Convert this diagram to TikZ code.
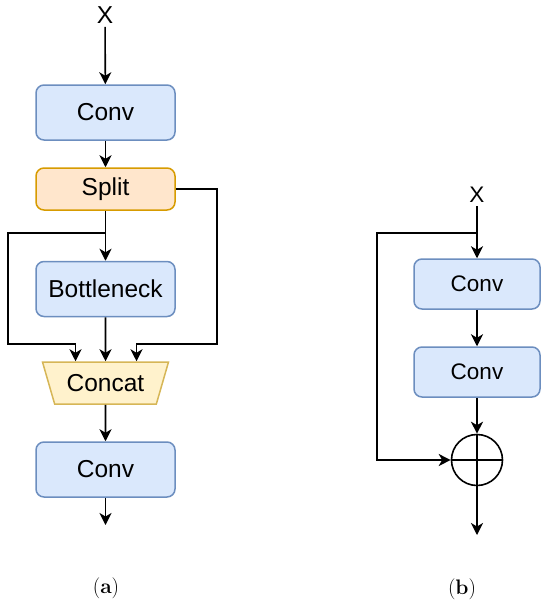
\documentclass[tikz,border=0pt]{standalone}
\usepackage{fontspec}
\newfontfamily\boxfont{Liberation Sans}
\usetikzlibrary{arrows.meta}
\usetikzlibrary{shapes.geometric}
\usetikzlibrary{calc}
\definecolor{blockfill}{HTML}{DAE8FC}
\definecolor{blockline}{HTML}{6C8EBF}
\definecolor{splitfill}{HTML}{FFE6CC}
\definecolor{splitline}{HTML}{D79B00}
\definecolor{catfill}{HTML}{FFF2CC}
\definecolor{catline}{HTML}{D6B656}
\tikzset{>={Stealth[length=12pt,width=12pt,inset=3.5pt]}}
\tikzset{
  wire/.style={line width=1.6pt},
  flow/.style={wire, ->},
  block/.style={draw=blockline, fill=blockfill, line width=1.5pt, rounded corners=8pt,
    minimum width=139pt, minimum height=55pt, inner sep=0pt,
    font=\boxfont\fontsize{24.5}{28}\selectfont},
  smallblock/.style={block, minimum width=126pt, minimum height=50pt,
    font=\boxfont\fontsize{22.5}{26}\selectfont},
  splitbox/.style={block, draw=splitline, fill=splitfill, minimum height=42pt},
  catbox/.style={draw=catline, fill=catfill, line width=1.5pt, trapezium,
    shape border rotate=180, trapezium angle=55, trapezium stretches body,
    minimum width=126pt, minimum height=42pt, inner sep=0pt,
    font=\boxfont\fontsize{24.5}{28}\selectfont},
  capt/.style={font=\fontsize{21}{24}\selectfont}
}

\begin{document}
\begin{tikzpicture}[x=1pt, y=-1pt]
  \useasboundingbox (0,0) rectangle (550,606);
  % (a) split block
  \node[font=\boxfont\fontsize{24.5}{28}\selectfont] (xa) at (105,15) {X};
  \node[block] (conva) at (105.5,112.5) {Conv};
  \node[splitbox] (split) at (105.5,189) {Split};
  \node[block] (neck) at (105.5,289) {Bottleneck};
  \node[catbox] (concat) at (105.5,383) {Concat};
  \node[block] (convc) at (105.5,469.5) {Conv};
  \coordinate (outa) at (105.5,525);
  \coordinate (tapa) at (105.5,233);
  \coordinate (leftc) at (8,344);
  \coordinate (rightc) at (217,344);
  \draw[flow] (xa) -- (conva);
  \draw[flow] (conva) -- (split);
  \draw[flow] (split) -- (neck);
  \draw[flow] (neck) -- (concat.north);
  \draw[flow] (convc) -- (outa);
  \draw[flow] (concat) -- (convc);
  \draw[flow] (tapa) -| (leftc) -| ([xshift=-30pt]concat.north);
  \draw[flow] (split.east) -| (rightc) -| ([xshift=31pt]concat.north);
  % (b) residual block
  \node[font=\boxfont\fontsize{22.5}{26}\selectfont] (xb) at (477,195) {X};
  \node[smallblock] (convd) at (477,284) {Conv};
  \node[smallblock] (conve) at (477,372) {Conv};
  \node[draw, circle, line width=1.6pt, minimum size=51pt, inner sep=0pt] (sum) at (477,460) {};
  \coordinate (outb) at (477,535);
  \coordinate (tapb) at (477,233);
  \coordinate (leftb) at (377,460);
  \draw[flow] (xb) -- (convd);
  \draw[flow] (convd) -- (conve);
  \draw[flow] (conve) -- (sum);
  \draw[wire] (sum.north) -- (sum.south) (sum.west) -- (sum.east);
  \draw[flow] (sum) -- (outb);
  \draw[flow] (tapb) -| (leftb) -- (sum.west);
  % captions
  \node[capt] (capa) at (106,588) {(\textbf{a})};
  \node[capt] (capb) at (462,589) {(\textbf{b})};
\end{tikzpicture}
\end{document}
